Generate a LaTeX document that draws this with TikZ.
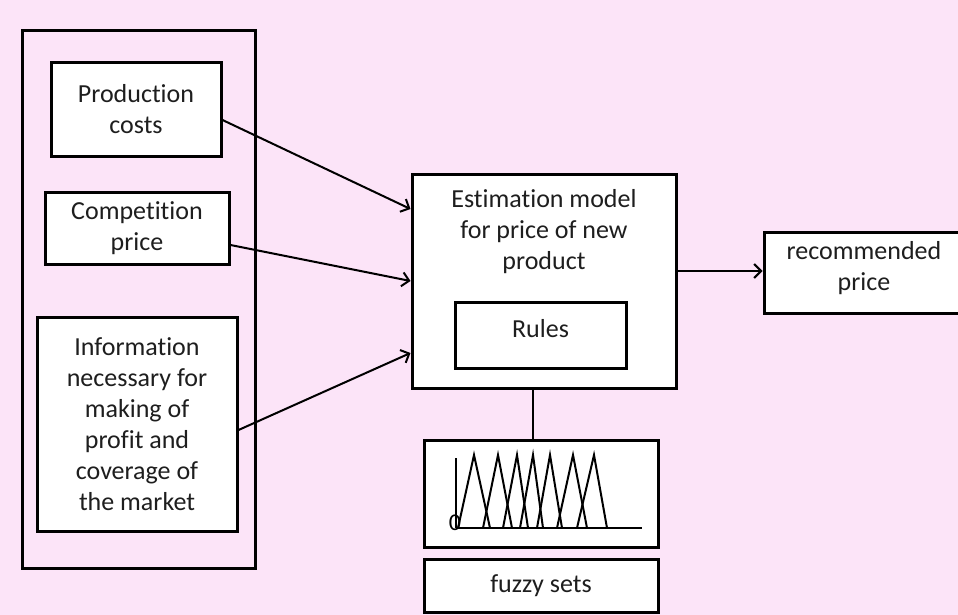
\documentclass[tikz,border=0pt]{standalone}
\usepackage{fontspec}
\setmainfont[RawFeature=-liga]{Carlito}
\usetikzlibrary{arrows.meta}
\definecolor{bgpink}{RGB}{252,228,248}
\definecolor{txt}{RGB}{30,30,30}
\tikzset{
  box/.style={draw=black, line width=3pt, fill=white, inner sep=0pt},
  frame/.style={draw=black, line width=3pt, inner sep=0pt},
  label/.style={font=\fontsize{26}{31}\selectfont, text=txt, align=center, inner sep=0pt},
  link/.style={line width=2pt, -{Straight Barb[length=7pt,width=14pt,line width=2pt]}},
  plain/.style={line width=2pt},
  curve/.style={line width=2pt, line join=miter}
}
\begin{document}
\begin{tikzpicture}[x=1pt,y=-1pt]
\useasboundingbox[fill=bgpink] (0,0) rectangle (958,615);

% input group
\node[frame, minimum width=233pt, minimum height=537pt] (group) at (138.5,299.5) {};
\node[box, minimum width=170pt, minimum height=93pt] (prod) at (136,109.5) {};
\node[label] at (prod.center) {Production\\costs};
\node[box, minimum width=184pt, minimum height=72pt] (comp) at (137,228) {};
\node[label] at (comp.center) {Competition\\price};
\node[box, minimum width=200pt, minimum height=214pt] (info) at (137,424) {};
\node[label] at (info.center) {Information\\necessary for\\making of\\profit and\\coverage of\\the market};

% estimation model
\node[box, minimum width=264pt, minimum height=214pt] (model) at (544,281) {};
\node[label] at (544,232) {Estimation model\\for price of new\\product};
\node[box, minimum width=171pt, minimum height=66pt] (rules) at (540.5,335) {};
\node[label] at (540.5,329) {Rules};

% output
\node[box, minimum width=200pt, minimum height=81pt] (rec) at (864,272.5) {};
\node[label] at (864,268) {recommended\\price};

% fuzzy sets
\node[box, minimum width=234pt, minimum height=107pt] (fuzzy) at (541,493.5) {};
\node[box, minimum width=234pt, minimum height=53pt] (fset) at (541,585.5) {};
\node[label] at (fset.center) {fuzzy sets};

% membership functions
\draw[plain] (456,458) -- (456,528);
\draw[plain] (456,528) -- (642,528);
\node[font=\fontsize{24}{24}\selectfont, inner sep=0pt] (zero) at (455,523) {0};
\draw[curve] (458,528) -- (474,455) -- (490,528);
\draw[curve] (483,528) -- (498,455) -- (512,528);
\draw[curve] (503,528) -- (517,455) -- (528,528);
\draw[curve] (520,528) -- (533,455) -- (543,528);
\draw[curve] (537,528) -- (550,455) -- (562,528);
\draw[curve] (557,528) -- (573,455) -- (587,528);
\draw[curve] (577,528) -- (594,455) -- (607,528);

% connectors
\draw[link] ([yshift=-10.5pt]prod.east) -- ([yshift=72pt]model.west);
\draw[link] ([yshift=-17pt]comp.east) -- (model.west);
\draw[link] ([yshift=-6pt]info.east) -- ([yshift=-72pt]model.west);
\coordinate (out) at ([yshift=10pt]model.east);
\draw[link] (out) -- (out -| rec.west);
\draw[plain] ([xshift=-11pt]model.south) -- ([xshift=-11pt]model.south |- fuzzy.north);
\end{tikzpicture}
\end{document}
